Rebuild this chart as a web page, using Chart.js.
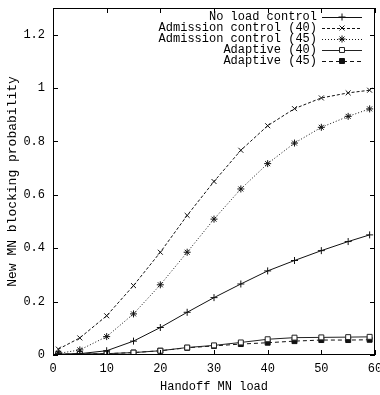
<!DOCTYPE html>
<html><head><meta charset="utf-8">
<script src="https://cdn.jsdelivr.net/npm/chart.js@4"></script>
<style>html,body{margin:0;padding:0;background:#fff}</style>
</head><body><canvas id="c" width="380" height="395"></canvas>
<script>
const xLoad   = [1, 5, 10, 15, 20, 25, 30, 35, 40, 45, 50, 55, 59];
const noLoad  = [0.002, 0.005, 0.016, 0.052, 0.103, 0.160, 0.215, 0.266, 0.315, 0.354, 0.391, 0.425, 0.450];
const adm40   = [0.022, 0.064, 0.147, 0.260, 0.385, 0.523, 0.650, 0.767, 0.859, 0.923, 0.963, 0.982, 0.992];
const adm45   = [0.006, 0.019, 0.069, 0.154, 0.263, 0.385, 0.509, 0.622, 0.717, 0.794, 0.853, 0.894, 0.922];
const adapt40 = [0.003, 0.004, 0.005, 0.009, 0.016, 0.028, 0.036, 0.047, 0.059, 0.065, 0.066, 0.067, 0.068];
const adapt45 = [0.003, 0.004, 0.005, 0.009, 0.016, 0.027, 0.034, 0.041, 0.046, 0.052, 0.056, 0.056, 0.057];
const xTicks  = [0, 10, 20, 30, 40, 50, 60];
const yTicks  = [0, 0.2, 0.4, 0.6, 0.8, 1, 1.2];
const seriesNames = ['No load control', 'Admission control (40)', 'Admission control (45)', 'Adaptive (40)', 'Adaptive (45)'];
const xTitle = 'Handoff MN load';
const yTitle = 'New MN blocking probability';

const FONT = 'Liberation Mono';
const pts = arr => xLoad.map((x, i) => ({x: x, y: arr[i]}));
function ds(label, arr, style, dash, fill, color) {
  return {
    label: label, data: pts(arr), borderColor: color, backgroundColor: fill,
    borderWidth: 1, borderDash: dash, pointStyle: style, pointRadius: 3.5,
    pointBorderColor: color, pointBackgroundColor: fill, pointBorderWidth: 1, tension: 0, fill: false
  };
}
const datasets = [
  ds(seriesNames[0], noLoad, 'cross', [], '#000', '#111'),
  ds(seriesNames[1], adm40, 'crossRot', [3, 2], '#000', '#111'),
  ds(seriesNames[2], adm45, 'star', [1, 2], '#000', '#111'),
  ds(seriesNames[3], adapt40, 'rect', [], '#fff', '#222'),
  ds(seriesNames[4], adapt45, 'rect', [4, 3], '#111', '#111')
];

const framePlugin = {
  id: 'frame',
  afterDraw(chart) {
    const ctx = chart.ctx, a = chart.chartArea;
    const xs = chart.scales.x, ys = chart.scales.y;
    ctx.save();
    ctx.strokeStyle = '#000';
    ctx.lineWidth = 1;
    ctx.setLineDash([]);
    ctx.strokeRect(Math.round(a.left) + 0.5, Math.round(a.top) + 0.5, Math.round(a.right - a.left) - 1, Math.round(a.bottom - a.top) - 1);
    ctx.beginPath();
    const L = 5;
    xTicks.forEach(v => {
      const px = Math.round(xs.getPixelForValue(v)) + 0.5;
      ctx.moveTo(px, a.bottom); ctx.lineTo(px, a.bottom - L);
      ctx.moveTo(px, a.top); ctx.lineTo(px, a.top + L);
    });
    yTicks.forEach(v => {
      const py = Math.round(ys.getPixelForValue(v)) + 0.5;
      ctx.moveTo(a.left, py); ctx.lineTo(a.left + L, py);
      ctx.moveTo(a.right, py); ctx.lineTo(a.right - L, py);
    });
    ctx.stroke();
    // key
    ctx.font = '12px "' + FONT + '"';
    ctx.textAlign = 'right';
    ctx.textBaseline = 'middle';
    ctx.fillStyle = '#000';
    chart.data.datasets.forEach((d, i) => {
      const y = 17 + 11 * i;
      ctx.fillText(d.label, 317, y);
      ctx.beginPath();
      ctx.strokeStyle = d.borderColor;
      ctx.lineWidth = 1;
      ctx.setLineDash(d.borderDash);
      ctx.moveTo(322, y + 0.5); ctx.lineTo(362, y + 0.5);
      ctx.stroke();
      ctx.setLineDash([]);
      ctx.fillStyle = d.pointBackgroundColor;
      ctx.strokeStyle = d.pointBorderColor;
      Chart.helpers.drawPoint(ctx, {pointStyle: d.pointStyle, radius: d.pointRadius, borderWidth: 1, rotation: 0}, 342, y);
      ctx.fillStyle = '#000';
    });
    ctx.restore();
  }
};

new Chart(document.getElementById('c'), {
  type: 'line',
  data: {datasets: datasets},
  plugins: [framePlugin],
  options: {
    responsive: false, animation: false, devicePixelRatio: 1,
    layout: {padding: {left: 0, right: 3, top: 8, bottom: 0}},
    plugins: {legend: {display: false}, tooltip: {enabled: false}},
    scales: {
      x: {
        type: 'linear', min: 0, max: 60,
        afterBuildTicks: s => { s.ticks = xTicks.map(v => ({value: v})); },
        afterFit: s => { s.height = 40; s.paddingLeft = 0; s.paddingRight = 0; },
        grid: {display: false, drawTicks: false},
        border: {display: false},
        ticks: {color: '#000', font: {family: FONT, size: 12}, padding: 7, callback: v => String(v), maxRotation: 0},
        title: {display: true, text: xTitle, color: '#000', font: {family: FONT, size: 12}, padding: {top: 4, bottom: 1}}
      },
      y: {
        type: 'linear', min: 0, max: 1.3,
        afterBuildTicks: s => { s.ticks = yTicks.map(v => ({value: v})); },
        afterFit: s => { s.width = 53; s.paddingTop = 0; s.paddingBottom = 0; },
        grid: {display: false, drawTicks: false},
        border: {display: false},
        ticks: {color: '#000', font: {family: FONT, size: 12}, padding: 8, callback: v => String(v)},
        title: {display: true, text: yTitle, color: '#000', font: {family: FONT, size: 13}, padding: {top: 5, bottom: 0}}
      }
    }
  }
});
</script></body></html>
